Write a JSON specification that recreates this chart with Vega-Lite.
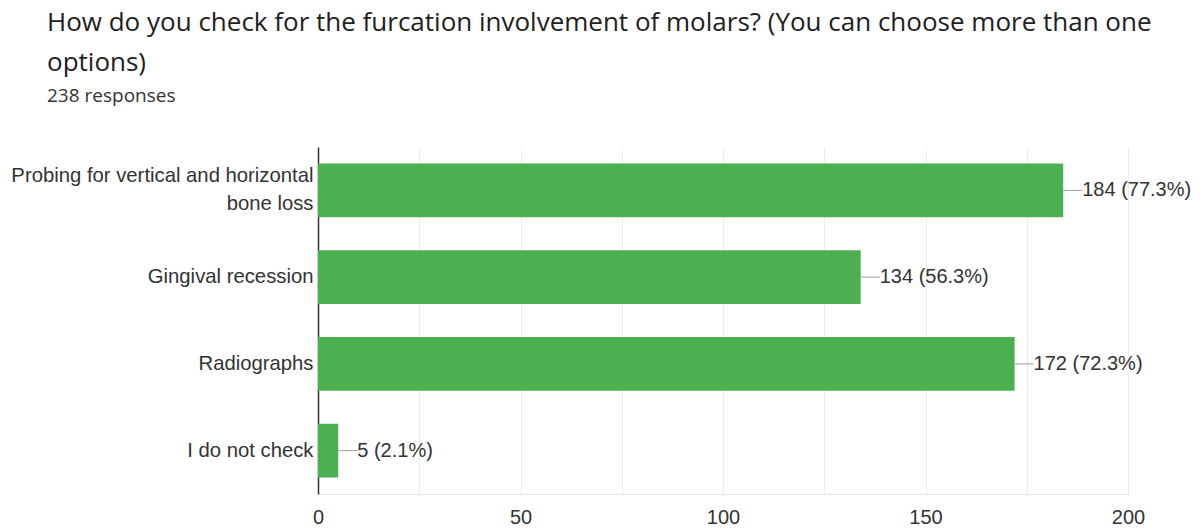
{
  "$schema": "https://vega.github.io/schema/vega-lite/v6.json",
  "width": 810,
  "height": 347,
  "autosize": {"type": "none"},
  "padding": {"left": 318, "top": 147, "right": 74, "bottom": 35},
  "background": "white",
  "config": {
    "view": {"stroke": null},
    "font": "Liberation Sans"
  },
  "title": {
    "text": ["How do you check for the furcation involvement of molars? (You can choose more than one", "options)"],
    "subtitle": "238 responses",
    "anchor": "start",
    "frame": "group",
    "dx": -271,
    "offset": 41,
    "font": "Open Sans",
    "fontSize": 26,
    "fontWeight": "normal",
    "color": "#212121",
    "lineHeight": 40,
    "subtitleFont": "Open Sans",
    "subtitleFontSize": 19,
    "subtitleColor": "#333333",
    "subtitlePadding": 11
  },
  "data": {
    "values": [
      {"option": "Probing for vertical and horizontal bone loss", "count": 184, "label": "184 (77.3%)"},
      {"option": "Gingival recession", "count": 134, "label": "134 (56.3%)"},
      {"option": "Radiographs", "count": 172, "label": "172 (72.3%)"},
      {"option": "I do not check", "count": 5, "label": "5 (2.1%)"}
    ]
  },
  "encoding": {
    "y": {
      "field": "option",
      "type": "nominal",
      "sort": null,
      "scale": {"paddingInner": 0.38, "paddingOuter": 0.19},
      "axis": {
        "title": null,
        "ticks": false,
        "domainColor": "#333333",
        "domainWidth": 1.5,
        "labelFont": "Liberation Sans",
        "labelFontSize": 20.3,
        "labelColor": "#333333",
        "labelPadding": 5,
        "labelLimit": 400,
        "labelLineHeight": 28,
        "labelOffset": {"condition": {"test": "datum.value == 'Probing for vertical and horizontal bone loss'", "value": -14}, "value": 0},
        "labelExpr": "datum.label == 'Probing for vertical and horizontal bone loss' ? ['Probing for vertical and horizontal', 'bone loss'] : datum.label"
      }
    }
  },
  "layer": [
    {
      "mark": {"type": "bar", "color": "#4CAF50"},
      "encoding": {
        "x": {
          "field": "count",
          "type": "quantitative",
          "scale": {"domain": [0, 200], "nice": false},
          "axis": {
            "title": null,
            "values": [0, 25, 50, 75, 100, 125, 150, 175, 200],
            "labelExpr": "datum.value % 50 == 0 ? datum.label : ''",
            "labelFlush": false,
            "labelOverlap": false,
            "ticks": false,
            "domainColor": "#e6e6e6",
            "gridColor": "#ececec",
            "labelFont": "Liberation Sans",
            "labelFontSize": 20,
            "labelColor": "#333333",
            "labelPadding": 13
          }
        }
      }
    },
    {
      "mark": {"type": "rule", "color": "#9e9e9e", "strokeWidth": 1, "x2Offset": 19},
      "encoding": {
        "x": {"field": "count", "type": "quantitative"},
        "x2": {"field": "count"}
      }
    },
    {
      "mark": {"type": "text", "align": "left", "dx": 19, "font": "Liberation Sans", "fontSize": 20, "color": "#333333"},
      "encoding": {
        "x": {"field": "count", "type": "quantitative"},
        "text": {"field": "label"}
      }
    }
  ]
}
